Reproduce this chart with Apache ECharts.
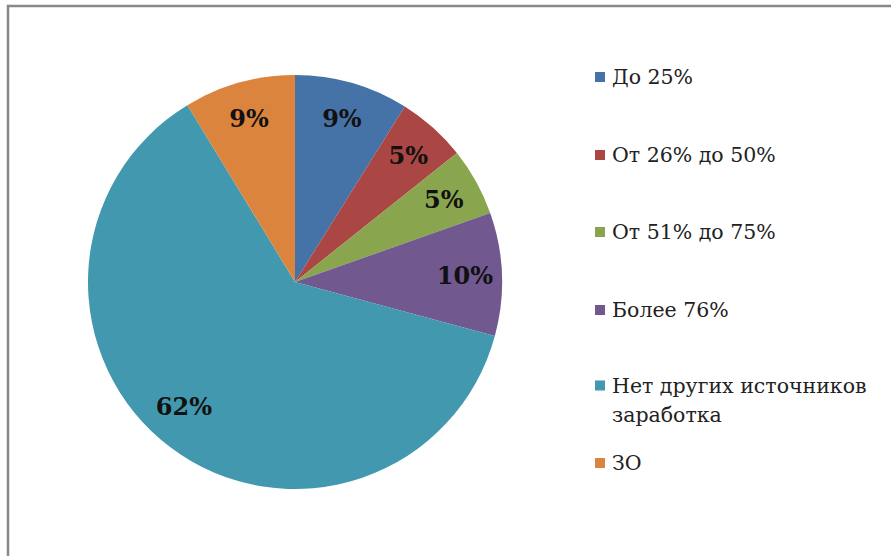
<!DOCTYPE html>
<html>
<head>
<meta charset="utf-8">
<script src="https://cdn.jsdelivr.net/npm/echarts@6/dist/echarts.min.js"></script>
<style>
  html, body { margin: 0; padding: 0; background: #fff; }
  #pieChart { width: 891px; height: 556px; }
</style>
</head>
<body>
<div id="pieChart"></div>
<script>
const categories = ['До 25%', 'От 26% до 50%', 'От 51% до 75%', 'Более 76%', 'Нет других источников заработка', 'ЗО'];
const shares = [8.9, 5.4, 5.3, 9.6, 62.1, 8.7];
const colors = ['#4572A7', '#AA4643', '#89A54E', '#71588F', '#4198AF', '#DB843D'];
const legendTops = [63, 141, 218, 296, 342, 449];

const pieData = categories.map((name, i) => ({ name: name, value: shares[i] }));
const font = '"DejaVu Serif", "Liberation Serif", serif';
const longName = 'Нет других источников заработка';

const pieChart = echarts.init(document.querySelector('#pieChart'), null, { renderer: 'svg' });

// one legend per item so the spacing follows the picture
const legends = categories.map((name, i) => ({
  data: [name],
  orient: 'vertical',
  left: 595,
  top: legendTops[i],
  padding: 0,
  itemWidth: 10,
  itemHeight: 10,
  itemGap: 0,
  icon: 'rect',
  selectedMode: false,
  // empty first line keeps the icon level with the first text line
  formatter: n => n === longName ? '\nНет других источников\nзаработка' : n,
  textStyle: {
    fontFamily: font,
    fontSize: 20.5,
    color: '#222',
    lineHeight: name === longName ? 29 : 28,
    padding: [0, 0, 0, 2]
  }
}));

const option = {
  animation: false,
  color: colors,
  graphic: [{
    type: 'rect',
    shape: { x: 8, y: 6, width: 900, height: 600 },
    style: { fill: 'none', stroke: '#888', lineWidth: 2.5 },
    silent: true
  }],
  legend: legends,
  series: [
    {
      type: 'pie',
      center: [295, 282],
      radius: [0, 207],
      startAngle: 90,
      clockwise: true,
      data: pieData,
      label: { show: false },
      labelLine: { show: false },
      itemStyle: { borderWidth: 0 },
      emphasis: { disabled: true }
    },
    {
      // label ring: labels sit at ~0.8 of the radius like the original
      type: 'pie',
      center: [295, 282],
      radius: [0, 334],
      startAngle: 90,
      clockwise: true,
      silent: true,
      data: pieData,
      percentPrecision: 0,
      itemStyle: { color: 'transparent', borderWidth: 0 },
      label: {
        show: true,
        position: 'inside',
        formatter: '{d}%',
        fontFamily: font,
        fontWeight: 'bold',
        fontSize: 24,
        color: '#111'
      },
      labelLayout: p => p.dataIndex === 4 ? { dx: -9, dy: -11 } : {},
      labelLine: { show: false },
      emphasis: { disabled: true }
    }
  ]
};
pieChart.setOption(option);
</script>
</body>
</html>
